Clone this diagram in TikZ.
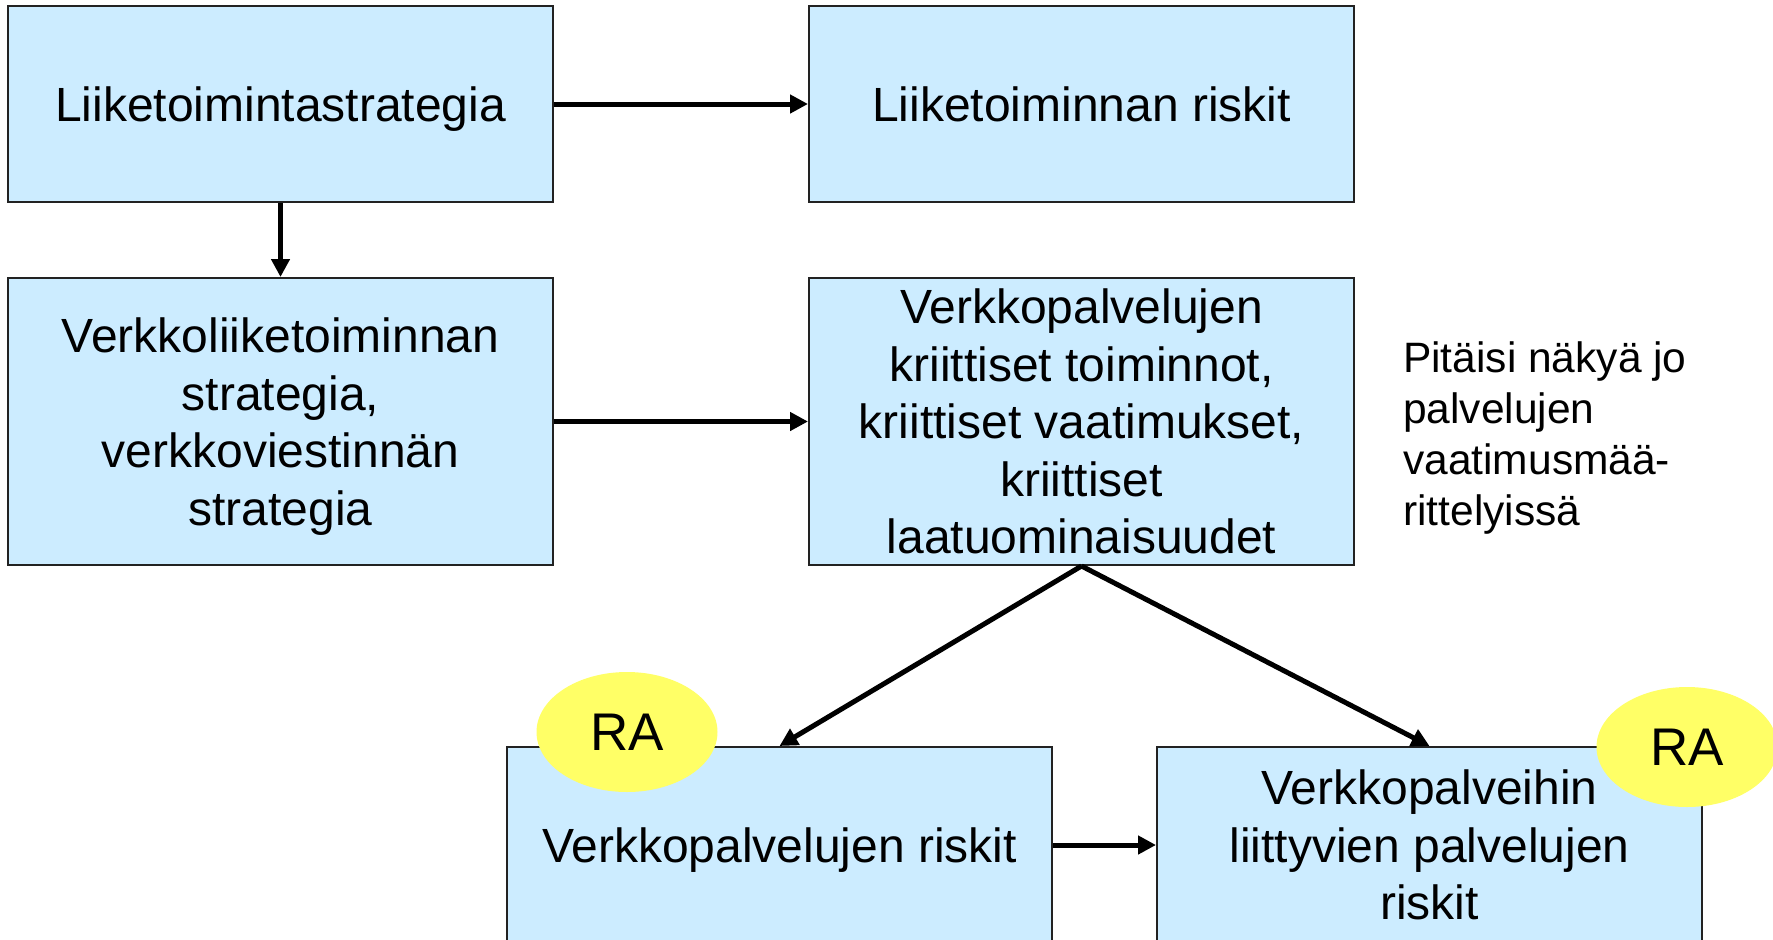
\documentclass[tikz,border=0pt]{standalone}
\usepackage{fontspec}
\setmainfont{Liberation Sans}
\usetikzlibrary{arrows.meta,shapes.geometric}
\definecolor{boxblue}{HTML}{CCECFF}
\definecolor{rayellow}{HTML}{FFFF66}
\definecolor{edge}{HTML}{222222}
\begin{document}
\begin{tikzpicture}[x=1pt,y=-1pt,
  box/.style={draw=edge,line width=2pt,fill=boxblue,rectangle,minimum width=545pt,
    inner sep=0pt,align=center,font=\fontsize{48}{57.5}\selectfont},
  ra/.style={ellipse,fill=rayellow,minimum width=181pt,minimum height=120pt,inner sep=0pt,
    font=\fontsize{53}{60}\selectfont},
  arr/.style={line width=5pt,-{Triangle[length=18pt,width=18pt]}}]
\clip (0,0) rectangle (1773,940);
\fill[white] (0,0) rectangle (1773,940);
\node[box,minimum height=196pt,text depth=0pt] (b1) at (280.5,104) {Liiketoimintastrategia};
\node[box,minimum height=196pt] (b2) at (1081.5,104) {Liiketoiminnan riskit};
\node[box,minimum height=287pt,text depth=0pt] (b3) at (280.5,421.5) {Verkkoliiketoiminnan\\strategia,\\verkkoviestinnän\\strategia};
\node[box,minimum height=287pt] (b4) at (1081.5,421.5) {Verkkopalvelujen\\kriittiset toiminnot,\\kriittiset vaatimukset,\\kriittiset\\laatuominaisuudet};
\node[box,minimum height=196pt,text depth=0pt] (b5) at (779.5,845) {Verkkopalvelujen riskit};
\node[box,minimum height=196pt] (b6) at (1429.5,845) {Verkkopalveihin\\liittyvien palvelujen\\riskit};
\node[ra] (e1) at (627,732) {RA};
\node[ra] (e2) at (1687,747) {RA};
\node[anchor=west,align=left,inner sep=0pt,font=\fontsize{42.5}{51}\selectfont] (note) at (1403,438)
  {Pitäisi näkyä jo\\palvelujen\\vaatimusmää-\\rittelyissä};
\draw[arr] (b1.east) -- (b2.west);
\draw[arr] (b1.south) -- (b3.north);
\draw[arr] (b3.east) -- (b4.west);
\draw[arr] (b4.south) -- (b5.north);
\draw[arr] (b4.south) -- (b6.north);
\draw[arr] (b5.east) -- (b6.west);
\end{tikzpicture}
\end{document}
